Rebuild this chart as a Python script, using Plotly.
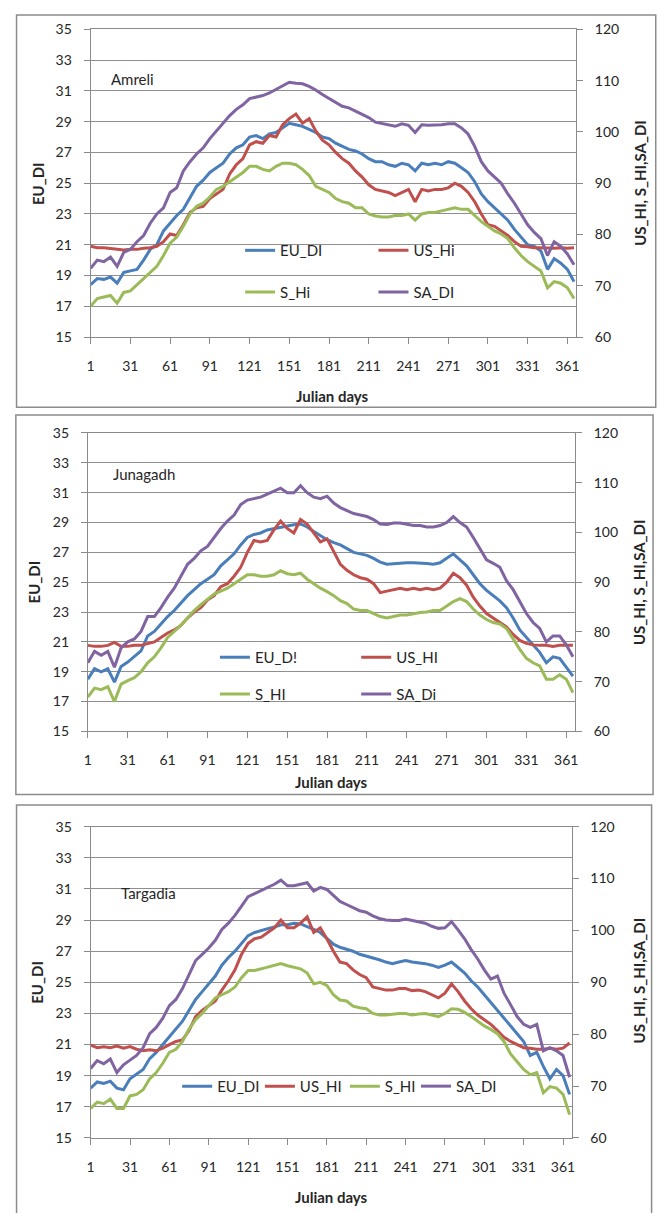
import plotly.graph_objects as go

# ---------------- data (every 5th Julian day) ----------------
days = list(range(1, 367, 5))
x_tick_days = [1, 31, 61, 91, 121, 151, 181, 211, 241, 271, 301, 331, 361]

# Amreli
amreli_eu_di = [18.4, 18.8, 18.75, 18.9, 18.5, 19.2, 19.3, 19.4, 20.0, 20.7,
                21.0, 21.9, 22.4, 22.9, 23.3, 24.1, 24.8, 25.2, 25.7, 26.0,
                26.3, 26.9, 27.3, 27.5, 28.0, 28.1, 27.9, 28.2, 28.3, 28.6,
                28.9, 28.8, 28.7, 28.5, 28.3, 28.0, 27.9, 27.6, 27.4, 27.2,
                27.1, 26.9, 26.6, 26.4, 26.4, 26.2, 26.1, 26.3, 26.2, 25.8,
                26.3, 26.2, 26.3, 26.2, 26.4, 26.3, 26.0, 25.7, 25.1, 24.3,
                23.8, 23.4, 23.0, 22.6, 22.0, 21.5, 21.0, 20.9, 20.6, 19.4,
                20.1, 19.8, 19.4, 18.6]
amreli_us_hi = [77.7, 77.4, 77.4, 77.3, 77.1, 77.0, 77.1, 77.1, 77.3, 77.4,
                77.7, 78.6, 80.1, 79.8, 81.9, 84.3, 85.2, 85.5, 87.0, 87.9,
                88.8, 91.8, 93.6, 94.8, 97.5, 98.1, 97.8, 99.3, 99.0, 101.4,
                102.6, 103.5, 101.7, 102.6, 100.2, 98.4, 97.5, 96.0, 94.8, 93.9,
                92.4, 91.2, 89.7, 88.8, 88.5, 88.2, 87.6, 88.2, 88.8, 86.4,
                88.8, 88.5, 88.8, 88.8, 89.1, 90.0, 89.4, 88.2, 86.4, 84.0,
                81.9, 81.6, 80.7, 79.8, 78.6, 77.7, 77.6, 77.4, 77.4, 77.3,
                77.3, 77.4, 77.3, 77.4]
amreli_s_hi = [66.0, 67.5, 67.8, 68.1, 66.6, 68.7, 69.0, 70.2, 71.4, 72.6,
               73.8, 75.9, 78.3, 79.5, 81.6, 84.0, 85.5, 86.1, 87.3, 88.8,
               89.4, 90.3, 91.2, 92.1, 93.3, 93.3, 92.7, 92.4, 93.3, 93.9,
               93.9, 93.6, 92.7, 91.5, 89.4, 88.8, 88.2, 87.0, 86.4, 86.1,
               85.2, 85.2, 84.0, 83.6, 83.4, 83.4, 83.7, 83.7, 84.0, 82.8,
               84.0, 84.3, 84.3, 84.6, 84.9, 85.2, 84.9, 84.9, 83.7, 82.5,
               81.6, 80.7, 80.1, 79.2, 77.4, 75.9, 74.7, 73.8, 72.9, 69.6,
               70.8, 70.5, 69.6, 67.5]
amreli_sa_di = [73.4, 75.0, 74.7, 75.6, 73.8, 76.5, 77.1, 78.6, 79.8, 82.2,
                84.0, 85.2, 88.2, 89.1, 92.4, 94.2, 95.7, 96.9, 98.7, 100.2,
                101.7, 103.2, 104.4, 105.3, 106.5, 106.8, 107.1, 107.6, 108.3, 109.1,
                109.7, 109.5, 109.4, 108.9, 108.2, 107.3, 106.5, 105.8, 105.0, 104.7,
                104.1, 103.5, 102.8, 101.9, 101.6, 101.4, 101.1, 101.6, 101.3, 99.9,
                101.4, 101.3, 101.3, 101.4, 101.6, 101.6, 100.8, 99.6, 97.2, 94.2,
                92.4, 91.2, 90.0, 87.9, 86.1, 84.0, 81.9, 80.4, 79.2, 75.9,
                78.6, 77.7, 76.2, 74.1]

# Junagadh
junagadh_eu_di = [18.5, 19.2, 19.0, 19.2, 18.3, 19.35, 19.65, 20.0, 20.4, 21.4,
                  21.7, 22.2, 22.7, 23.1, 23.6, 24.1, 24.5, 24.9, 25.2, 25.5,
                  26.1, 26.5, 26.9, 27.5, 28.0, 28.2, 28.3, 28.5, 28.6, 28.7,
                  28.75, 28.85, 28.9, 28.7, 28.4, 28.1, 27.85, 27.65, 27.5, 27.25,
                  27.0, 26.9, 26.8, 26.6, 26.35, 26.2, 26.25, 26.3, 26.3, 26.3,
                  26.3, 26.25, 26.2, 26.3, 26.6, 26.9, 26.5, 26.1, 25.5, 24.9,
                  24.45, 24.1, 23.75, 23.3, 22.6, 21.8, 21.3, 20.8, 20.3, 19.6,
                  20.0, 19.9, 19.3, 18.7]
junagadh_us_hi = [77.3, 77.1, 77.1, 77.3, 77.9, 77.1, 77.1, 77.3, 77.3, 77.6,
                  78.0, 78.9, 79.8, 80.4, 81.3, 82.8, 84.0, 84.9, 86.4, 87.3,
                  89.1, 89.7, 91.2, 93.0, 96.0, 98.4, 98.1, 98.4, 100.5, 102.3,
                  100.8, 99.9, 102.6, 101.7, 99.9, 98.1, 98.7, 96.0, 93.6, 92.4,
                  91.5, 90.9, 90.6, 89.7, 87.9, 88.2, 88.5, 88.8, 88.5, 88.8,
                  88.5, 88.8, 88.5, 88.8, 90.0, 91.8, 90.9, 89.4, 87.0, 85.2,
                  83.7, 82.8, 81.9, 81.0, 79.5, 78.3, 77.7, 77.4, 77.3, 77.3,
                  77.1, 77.3, 77.3, 77.3]
junagadh_s_hi = [66.9, 68.7, 68.4, 69.0, 66.0, 69.5, 70.2, 70.8, 72.0, 73.8,
                 75.0, 76.8, 78.9, 80.1, 81.3, 82.8, 84.3, 85.5, 86.6, 87.6,
                 88.2, 88.8, 89.7, 90.6, 91.5, 91.5, 91.2, 91.2, 91.5, 92.3,
                 91.7, 91.5, 91.8, 90.6, 89.7, 88.8, 88.1, 87.3, 86.3, 85.7,
                 84.6, 84.3, 84.3, 83.7, 83.1, 82.8, 83.1, 83.4, 83.4, 83.7,
                 83.9, 84.0, 84.3, 84.3, 85.2, 86.1, 86.7, 86.1, 84.6, 83.4,
                 82.5, 81.9, 81.6, 80.7, 78.6, 76.5, 74.7, 73.8, 73.2, 70.5,
                 70.5, 71.4, 70.5, 67.8]
junagadh_sa_di = [73.8, 76.1, 75.3, 76.1, 72.9, 76.8, 78.0, 78.6, 80.1, 83.1,
                  83.1, 84.9, 87.0, 88.8, 91.2, 93.6, 94.8, 96.3, 97.2, 99.0,
                  100.8, 102.3, 103.5, 105.6, 106.5, 106.8, 107.1, 107.7, 108.3, 108.9,
                  108.0, 108.0, 109.4, 108.0, 107.1, 106.8, 107.3, 105.9, 105.0, 104.4,
                  103.8, 103.5, 103.2, 102.6, 101.7, 101.6, 101.9, 101.9, 101.6, 101.4,
                  101.4, 101.1, 101.1, 101.4, 102.0, 103.2, 102.0, 101.1, 99.0, 96.6,
                  94.5, 93.8, 93.0, 90.3, 88.5, 86.1, 83.7, 81.9, 80.7, 78.0,
                  79.2, 79.2, 77.4, 75.0]

# Targadia
targadia_eu_di = [18.2, 18.6, 18.5, 18.65, 18.2, 18.1, 18.8, 19.1, 19.4, 20.1,
                  20.5, 21.0, 21.5, 22.0, 22.5, 23.2, 23.9, 24.4, 24.9, 25.4,
                  26.1, 26.6, 27.0, 27.5, 28.0, 28.2, 28.35, 28.45, 28.55, 28.7,
                  28.7, 28.8, 28.75, 28.6, 28.4, 28.2, 27.8, 27.45, 27.25, 27.15,
                  27.0, 26.8, 26.7, 26.6, 26.45, 26.3, 26.2, 26.3, 26.4, 26.3,
                  26.25, 26.2, 26.1, 25.95, 26.1, 26.3, 25.95, 25.6, 25.1, 24.7,
                  24.2, 23.7, 23.2, 22.7, 22.2, 21.75, 21.2, 20.3, 20.5, 19.6,
                  18.8, 19.4, 19.0, 17.8]
targadia_us_hi = [77.9, 77.4, 77.6, 77.4, 77.7, 77.3, 77.6, 77.1, 76.8, 77.0,
                  76.8, 77.3, 78.0, 78.6, 78.9, 80.7, 83.4, 84.6, 85.5, 86.4,
                  88.5, 90.3, 92.4, 95.4, 97.5, 98.4, 98.7, 99.6, 100.5, 102.0,
                  100.5, 100.5, 101.4, 102.6, 99.6, 100.5, 98.4, 96.0, 93.9, 93.6,
                  92.4, 91.5, 90.9, 89.1, 88.8, 88.5, 88.5, 88.8, 88.8, 88.4,
                  88.5, 88.2, 87.6, 87.0, 87.9, 89.7, 88.2, 86.4, 84.9, 83.7,
                  82.8, 81.9, 80.7, 79.4, 78.6, 78.0, 77.4, 77.3, 77.1, 77.1,
                  77.3, 77.1, 77.3, 78.3]
targadia_s_hi = [65.7, 66.9, 66.6, 67.5, 65.7, 65.7, 68.1, 68.4, 69.3, 71.4,
                 72.6, 74.4, 76.5, 77.1, 78.6, 81.0, 82.8, 84.0, 85.5, 87.0,
                 87.6, 88.2, 89.1, 90.9, 92.3, 92.3, 92.6, 92.9, 93.2, 93.6,
                 93.2, 92.9, 92.6, 91.8, 89.7, 90.0, 89.4, 87.6, 86.6, 86.4,
                 85.4, 85.1, 84.9, 84.0, 83.7, 83.7, 83.9, 84.0, 84.0, 83.7,
                 83.9, 84.0, 83.7, 83.4, 84.0, 84.9, 84.8, 84.2, 83.4, 82.5,
                 81.6, 80.9, 80.1, 78.6, 76.2, 74.7, 73.2, 72.2, 72.6, 68.7,
                 69.9, 69.6, 68.4, 64.5]
targadia_sa_di = [73.4, 74.9, 74.3, 75.2, 72.6, 74.1, 75.0, 75.9, 77.4, 80.1,
                  81.3, 83.1, 85.5, 86.7, 88.8, 91.5, 94.2, 95.4, 96.6, 98.1,
                  100.2, 101.4, 102.9, 104.7, 106.5, 107.1, 107.7, 108.3, 108.9, 109.7,
                  108.6, 108.6, 108.9, 109.2, 107.6, 108.3, 107.9, 106.7, 105.6, 105.0,
                  104.4, 103.8, 103.5, 102.8, 102.3, 102.0, 101.9, 101.9, 102.2, 101.9,
                  101.7, 101.4, 100.8, 100.4, 100.5, 101.7, 100.1, 98.4, 96.3, 94.5,
                  92.4, 90.6, 91.2, 87.9, 85.7, 83.4, 81.9, 81.3, 81.9, 76.8,
                  77.4, 76.8, 75.9, 71.7]

station_names = ["Amreli", "Junagadh", "Targadia"]
legend_labels = [
    ["EU_DI", "US_Hi", "S_Hi", "SA_DI"],
    ["EU_D!", "US_HI", "S_HI", "SA_Di"],
    ["EU_DI", "US_HI", "S_HI", "SA_DI"],
]
left_title = "EU_DI"
right_title = "US_HI, S_HI,SA_DI"
x_title = "Julian days"

# ---------------- styling / layout ----------------
W, H = 663, 1213
FONT = "Lato"
TXT = "#262626"
GRID = "#8f8f8f"
AX = "#8a8a8a"
COLORS = ["#4A7EBB", "#C0504D", "#9BBB59", "#8064A2"]


def px(x):
    return x / W


def py(y):
    return 1 - y / H


series = [
    [amreli_eu_di, amreli_us_hi, amreli_s_hi, amreli_sa_di],
    [junagadh_eu_di, junagadh_us_hi, junagadh_s_hi, junagadh_sa_di],
    [targadia_eu_di, targadia_us_hi, targadia_s_hi, targadia_sa_di],
]

# pixel geometry of each panel
panels = [
    dict(xl=87.7, xr=579.0, yt=20.7, yb=332.7, box=(12.7, 6, 659.7, 404),
         name_pos=(106, 71), xt=(332.5, 393), lt=(34, 177), rt=(643, 176),
         leg=[(244, 245), (379, 245), (244, 287.3), (379, 287.3)]),
    dict(xl=84.9, xr=577.9, yt=430.0, yb=732.7, box=(12.0, 411.7, 657.0, 796.7),
         name_pos=(108, 471.7), xt=(331, 784), lt=(30, 581), rt=(643, 581),
         leg=[(218.5, 657.7), (361.5, 657.7), (218.5, 695), (361.5, 695)]),
    dict(xl=87.7, xr=574.5, yt=829.3, yb=1145.0, box=(12.7, 807.3, 655.5, 1240),
         name_pos=(116.7, 896.7), xt=(331, 1205), lt=(34, 987), rt=(643, 985),
         leg=[(180.3, 1092.7), (264, 1092.7), (350, 1092.7), (422, 1092.7)]),
]

fig = go.Figure()
layout = dict(width=W, height=H, margin=dict(l=0, r=0, t=0, b=0),
              paper_bgcolor="white", plot_bgcolor="white",
              font=dict(family=FONT, size=14, color=TXT), showlegend=True)
shapes, annotations = [], []

leg_n = 0
for i, p in enumerate(panels):
    xa = "x" if i == 0 else f"x{i+1}"
    yl_n, yr_n = 2 * i + 1, 2 * i + 2
    yl = "y" if yl_n == 1 else f"y{yl_n}"
    yr = f"y{yr_n}"
    xkey = "xaxis" if i == 0 else f"xaxis{i+1}"
    ylkey = "yaxis" if yl_n == 1 else f"yaxis{yl_n}"
    yrkey = f"yaxis{yr_n}"

    layout[xkey] = dict(domain=[px(p["xl"]), px(p["xr"])], anchor=yl, range=[1, 367.5],
                        tickmode="array", tickvals=x_tick_days,
                        ticks="outside", ticklen=6, tickcolor=AX,
                        showline=True, linecolor=AX, linewidth=1, mirror=True,
                        showgrid=False, zeroline=False, ticklabelstandoff=10,
                        tickfont=dict(size=14, family=FONT, color=TXT))
    layout[ylkey] = dict(domain=[py(p["yb"]), py(p["yt"])], anchor=xa, range=[15, 35],
                         dtick=2, tick0=15, ticks="outside", ticklen=6, tickcolor=AX,
                         showline=True, linecolor=AX, linewidth=1,
                         showgrid=True, gridcolor=GRID, gridwidth=1, zeroline=False,
                         ticklabelstandoff=9, tickfont=dict(size=14, family=FONT, color=TXT))
    layout[yrkey] = dict(overlaying=yl, side="right", anchor=xa, range=[60, 120],
                         dtick=10, tick0=60, ticks="outside", ticklen=6, tickcolor=AX,
                         showline=True, linecolor=AX, linewidth=1,
                         showgrid=False, zeroline=False, ticklabelstandoff=9,
                         tickfont=dict(size=14, family=FONT, color=TXT))

    for k in range(4):
        leg_n += 1
        lkey = "legend" if leg_n == 1 else f"legend{leg_n}"
        lx, ly = p["leg"][k]
        layout[lkey] = dict(x=px(lx - 5), y=py(ly), xanchor="left", yanchor="middle",
                            bgcolor="rgba(0,0,0,0)", borderwidth=0,
                            font=dict(size=15, family=FONT, color=TXT))
        fig.add_trace(go.Scatter(
            x=days, y=series[i][k], mode="lines", name=legend_labels[i][k],
            line=dict(color=COLORS[k], width=3),
            xaxis=xa, yaxis=yl if k == 0 else yr, legend=lkey, showlegend=True))

    bx0, by0, bx1, by1 = p["box"]
    shapes.append(dict(type="rect", xref="paper", yref="paper",
                       x0=px(bx0), x1=px(bx1), y0=py(by1), y1=py(by0),
                       line=dict(color="#8c8c8c", width=1.5), fillcolor="rgba(0,0,0,0)",
                       layer="below"))
    annotations.append(dict(text=station_names[i], xref="paper", yref="paper",
                            x=px(p["name_pos"][0]), y=py(p["name_pos"][1]),
                            xanchor="left", yanchor="middle", showarrow=False,
                            font=dict(size=15, family=FONT, color=TXT)))
    annotations.append(dict(text=f"<b>{x_title}</b>", xref="paper", yref="paper",
                            x=px(p["xt"][0]), y=py(p["xt"][1]),
                            xanchor="center", yanchor="middle", showarrow=False,
                            font=dict(size=15, family=FONT, color=TXT)))
    annotations.append(dict(text=f"<b>{left_title}</b>", xref="paper", yref="paper",
                            x=px(p["lt"][0]), y=py(p["lt"][1]), textangle=-90,
                            xanchor="center", yanchor="middle", showarrow=False,
                            font=dict(size=15, family=FONT, color=TXT)))
    annotations.append(dict(text=f"<b>{right_title}</b>", xref="paper", yref="paper",
                            x=px(p["rt"][0]), y=py(p["rt"][1]), textangle=-90,
                            xanchor="center", yanchor="middle", showarrow=False,
                            font=dict(size=15, family=FONT, color=TXT)))

layout["shapes"] = shapes
layout["annotations"] = annotations
fig.update_layout(**layout)
fig.write_html("out.html",
               config={"displayModeBar": False},
               post_script="document.body.style.margin='0px';"
                           "document.body.style.overflow='hidden';")
